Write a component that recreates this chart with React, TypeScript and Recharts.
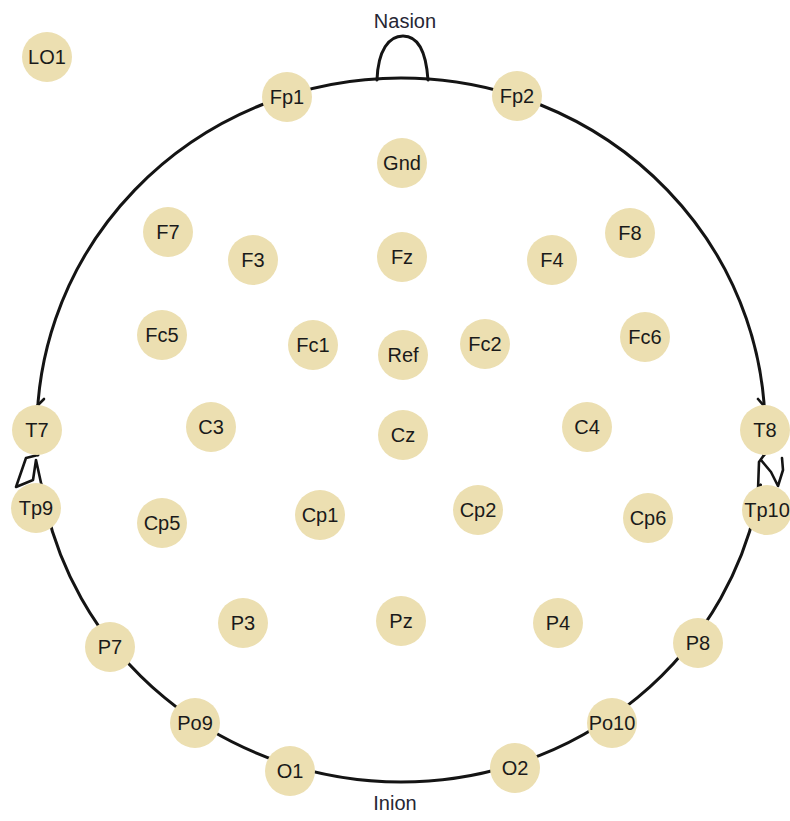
import React from 'react';
import { ScatterChart, Scatter, XAxis, YAxis } from 'recharts';

// electrode positions (page pixels, y grows downward)
const electrodeNames = [
  'LO1', 'Fp1', 'Fp2', 'Gnd', 'F7', 'F3', 'Fz', 'F4', 'F8',
  'Fc5', 'Fc1', 'Ref', 'Fc2', 'Fc6',
  'T7', 'C3', 'Cz', 'C4', 'T8',
  'Tp9', 'Cp5', 'Cp1', 'Cp2', 'Cp6', 'Tp10',
  'P7', 'P3', 'Pz', 'P4', 'P8',
  'Po9', 'Po10', 'O1', 'O2'
];
const electrodeX = [
  47, 287, 517, 402, 168, 253, 402, 552, 630,
  162, 313, 403, 485, 645,
  37, 211, 403, 587, 765,
  36, 162, 320, 478, 648, 767,
  110, 243, 401, 558, 698,
  195, 612, 290, 515
];
const electrodeY = [
  57, 97, 96, 163, 232, 260, 257, 260, 233,
  335, 345, 355, 344, 337,
  430, 427, 435, 427, 430,
  508, 523, 515, 510, 518, 510,
  647, 623, 621, 623, 643,
  723, 723, 771, 768
];

const landmarkNames = ['Nasion', 'Inion'];
const landmarkX = [405, 395];
const landmarkY = [21, 803];

// head outline: centre and radii
const headX = [401];
const headY = [430];
const headRx = [364];
const headRy = [352];

const electrodes = electrodeNames.map((name, i) => ({ name, x: electrodeX[i], y: electrodeY[i] }));
const landmarks = landmarkNames.map((name, i) => ({ name, x: landmarkX[i], y: landmarkY[i] }));
const head = headX.map((x, i) => ({ x, y: headY[i], rx: headRx[i], ry: headRy[i] }));

const FONT = '"Liberation Sans", Arial, sans-serif';

const HeadShape = (props: any) => {
  const { cx, cy, payload } = props;
  const rx = payload.rx;
  const ry = payload.ry;
  const ptX = (dy: number, side: number) => cx + side * rx * Math.sqrt(1 - (dy * dy) / (ry * ry));
  const topY = cy + 25;
  const botY = cy + 55;
  const lTop = ptX(25, -1);
  const rTop = ptX(25, 1);
  const lBot = ptX(55, -1);
  const rBot = ptX(55, 1);
  const outline =
    `M ${lTop} ${topY} A ${rx} ${ry} 0 1 1 ${rTop} ${topY} ` +
    `M ${rBot} ${botY} A ${rx} ${ry} 0 0 1 ${lBot} ${botY}`;
  const top = cy - ry;
  const nose =
    `M ${cx - 24} ${top + 2} C ${cx - 23} ${top - 28}, ${cx - 12} ${top - 42}, ${cx + 2} ${top - 42} ` +
    `C ${cx + 16} ${top - 42}, ${cx + 25} ${top - 28}, ${cx + 27} ${top + 2}`;
  const leftEar =
    `M ${lTop} ${topY} L ${cx - 375} ${cy + 28} L ${cx - 385} ${cy + 57} L ${cx - 368} ${cy + 50} L ${cx - 365} ${cy + 30} ` +
    `M ${cx - 365} ${cy + 30} L ${lBot} ${botY} ` +
    `M ${cx - 364} ${cy - 24} L ${cx - 357} ${cy - 31}`;
  const rightEar =
    `M ${rTop} ${topY} L ${cx + 358} ${cy + 32} L ${cx + 357} ${cy + 60} ` +
    `M ${cx + 360} ${cy + 30} L ${cx + 370} ${cy + 42} L ${cx + 377} ${cy + 56} L ${cx + 382} ${cy + 40} L ${cx + 381} ${cy + 28} ` +
    `M ${rBot} ${botY} L ${cx + 357} ${cy + 60} ` +
    `M ${cx + 363} ${cy - 24} L ${cx + 357} ${cy - 31}`;
  return (
    <g fill="none" stroke="#141414" strokeWidth={3} strokeLinecap="round" strokeLinejoin="round">
      <path d={outline} />
      <path d={nose} />
      <path d={leftEar} strokeWidth={2.6} />
      <path d={rightEar} strokeWidth={2.6} />
    </g>
  );
};

const ElectrodeShape = (props: any) => {
  const { cx, cy, payload } = props;
  return (
    <g>
      <circle cx={cx} cy={cy} r={25} fill="#ECDFB1" />
      <text
        x={cx}
        y={cy}
        dy="0.36em"
        textAnchor="middle"
        fontFamily={FONT}
        fontSize={20}
        fill="#1a1a1a"
      >
        {payload.name}
      </text>
    </g>
  );
};

const LandmarkShape = (props: any) => {
  const { cx, cy, payload } = props;
  return (
    <text x={cx} y={cy} dy="0.36em" textAnchor="middle" fontFamily={FONT} fontSize={20} fill="#262633">
      {payload.name}
    </text>
  );
};

export default function App() {
  return (
    <div style={{ position: 'absolute', left: 0, top: 0, width: 790, height: 821, background: '#fff' }}>
      <ScatterChart width={790} height={821} margin={{ top: 0, right: 0, bottom: 0, left: 0 }}>
        <XAxis type="number" dataKey="x" domain={[0, 790]} hide />
        <YAxis type="number" dataKey="y" domain={[0, 821]} reversed hide />
        <Scatter data={head} shape={HeadShape} isAnimationActive={false} />
        <Scatter data={landmarks} shape={LandmarkShape} isAnimationActive={false} />
        <Scatter data={electrodes} shape={ElectrodeShape} isAnimationActive={false} />
      </ScatterChart>
    </div>
  );
}
